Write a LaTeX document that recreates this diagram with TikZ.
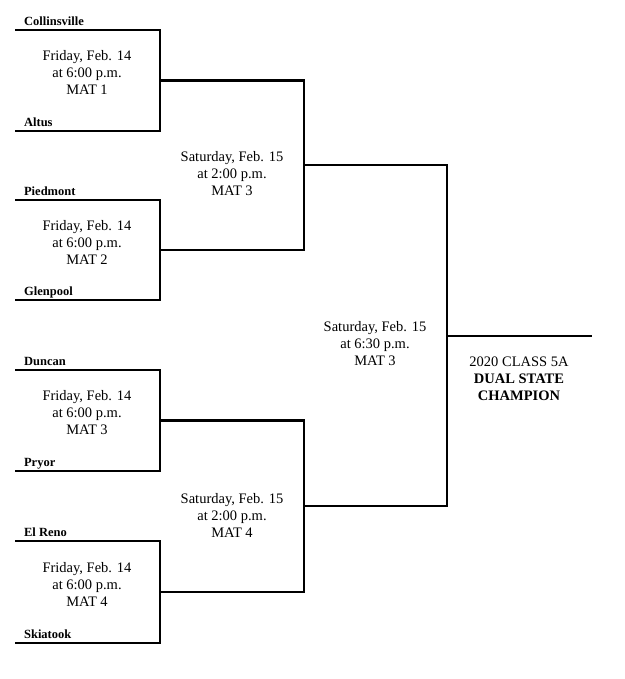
\documentclass[tikz,border=0pt]{standalone}
\usepackage{fontspec}
\setmainfont{Liberation Serif}
\usetikzlibrary{calc}
\begin{document}
\begin{tikzpicture}[x=1pt,y=-1pt,line width=2.2pt,
  team/.style={anchor=base west,inner sep=0pt,font=\fontsize{12.5}{14}\selectfont\bfseries},
  info/.style={align=center,inner sep=0pt,font=\fontsize{14.5}{17}\selectfont}]
\useasboundingbox (0,0) rectangle (624,679);

% Team lines and names
\foreach \y/\name/\id in {30/Collinsville/t1,131/Altus/t2,200/Piedmont/t3,300/Glenpool/t4,
                          370/Duncan/t5,471/Pryor/t6,541/El Reno/t7,643/Skiatook/t8} {
  \coordinate (\id a) at (15,\y);
  \coordinate (\id b) at (160,\y);
  \node[team] (\id) at (23,\y-4.5) {\name};
}

% First round brackets
\foreach \a/\b/\id in {t1/t2/q1,t3/t4/q2,t5/t6/q3,t7/t8/q4} {
  \draw (\a a) -- (\a b) -- (\b b) -- (\b a);
  \coordinate (\id a) at ($(\a b)!0.5!(\b b)$);
  \coordinate (\id b) at ([xshift=144pt]\id a);
}

% Second round brackets
\foreach \a/\b/\id in {q1/q2/s1,q3/q4/s2} {
  \draw (\a a) -- (\a b) -- (\b b) -- (\b a);
  \coordinate (\id a) at ($(\a b)!0.5!(\b b)$);
  \coordinate (\id b) at ([xshift=143pt]\id a);
}

% Final bracket
\draw (s1a) -- (s1b) -- (s2b) -- (s2a);
\coordinate (champ) at ($(s1b)!0.5!(s2b)$);
\coordinate (champend) at ([xshift=145pt]champ);
\draw (champ) -- (champend);

% Match info
\foreach \y/\m/\id in {72/1/m1,242/2/m2,413/3/m3,584/4/m4} {
  \node[info] (\id) at (87,\y) {Friday, Feb. 14\\at 6:00 p.m.\\MAT \m};
}
\node[info] (semi1) at (232,174) {Saturday, Feb. 15\\at 2:00 p.m.\\MAT 3};
\node[info] (semi2) at (232,515) {Saturday, Feb. 15\\at 2:00 p.m.\\MAT 4};
\node[info] (final) at (375,344) {Saturday, Feb. 15\\at 6:30 p.m.\\MAT 3};

% Champion
\node[info] (title) at (519,379) {2020 CLASS 5A\\\textbf{DUAL STATE}\\\textbf{CHAMPION}};

\end{tikzpicture}
\end{document}
